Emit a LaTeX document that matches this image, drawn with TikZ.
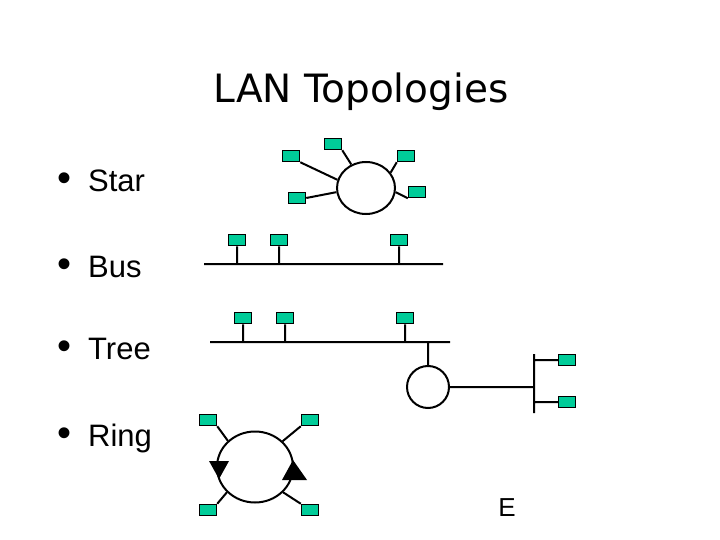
\documentclass[tikz,border=0pt]{standalone}
\usepackage{fontspec}
\setmainfont{Liberation Sans}
\newfontfamily\titlefont{DejaVu Sans}
\usepackage{tikz}
\usetikzlibrary{shapes.geometric,calc}
\usepackage{xcolor}
\definecolor{hostgreen}{RGB}{0,204,153}
\tikzset{
  host/.style={rectangle,draw,line width=1.5pt,fill=hostgreen,minimum width=17pt,minimum height=11pt,inner sep=0pt},
  wire/.style={draw,line width=2pt},
}

\begin{document}
\begin{tikzpicture}[
  x=1pt,y=-1pt,
  hub/.style={ellipse,draw,line width=2pt,inner sep=0pt},
  item/.style={anchor=base west,inner sep=0pt,font=\fontsize{31}{31}\selectfont}
]
\useasboundingbox (0,0) rectangle (720,540);

\node[anchor=base,inner sep=0pt,font=\titlefont\fontsize{39}{39}\selectfont] (title) at (361,103) {LAN Topologies};

\node[item] (lstar) at (57,192) {\makebox[31pt][l]{\fontsize{40}{40}\selectfont\textbullet}Star};
\node[item] (lbus) at (57,277) {\makebox[31pt][l]{\fontsize{40}{40}\selectfont\textbullet}Bus};
\node[item] (ltree) at (57,359) {\makebox[31pt][l]{\fontsize{40}{40}\selectfont\textbullet}Tree};
\node[item] (lring) at (57,446) {\makebox[31pt][l]{\fontsize{40}{40}\selectfont\textbullet}Ring};

\node[hub,minimum width=58pt,minimum height=52pt] (shub) at (366,188) {};
\node[host] (s1) at (291,156) {};
\node[host] (s2) at (333,144) {};
\node[host] (s3) at (406,156) {};
\node[host] (s4) at (417,192) {};
\node[host] (s5) at (297,198) {};

\coordinate (bl) at (204,264);
\coordinate (br) at (443,264);
\node[host] (b1) at (237,240) {};
\node[host] (b2) at (279,240) {};
\node[host] (b3) at (399,240) {};

\coordinate (tl) at (210,342);
\coordinate (tr) at (450,342);
\node[host] (t1) at (243,318) {};
\node[host] (t2) at (285,318) {};
\node[host] (t3) at (405,318) {};
\node[hub,minimum width=42pt,minimum height=42pt] (thub) at (428,387) {};
\coordinate (vt) at (534,354);
\coordinate (vb) at (534,413);
\node[host] (t4) at (567,360) {};
\node[host] (t5) at (567,402) {};

\node[hub,minimum width=76pt,minimum height=71pt] (ring) at (255,467) {};
\node[host] (r1) at (208,420) {};
\node[host] (r2) at (310,420) {};
\node[host] (r3) at (208,510) {};
\node[host] (r4) at (310,510) {};

\node[anchor=base,inner sep=0pt,font=\fontsize{26}{26}\selectfont] (mark) at (507,516) {E};

\path[wire]
(s1.south east) -- (shub.164)
(s2.south east) -- (shub.122)
(s3.south west) -- (shub.32)
(s4.south west) -- (shub.-8)
(s5.east) -- (shub.188)

(bl) -- (br)
(b1.south) -- (b1.south |- bl)
(b2.south) -- (b2.south |- bl)
(b3.south) -- (b3.south |- bl)

(tl) -- (tr)
(t1.south) -- (t1.south |- tl)
(t2.south) -- (t2.south |- tl)
(t3.south) -- (t3.south |- tl)
(thub.north) -- (thub.north |- tr)
(thub.east) -- (thub.east -| vt)
(vt) -- (vb)
(t4.west) -- (t4.west -| vt)
(t5.west) -- (t5.west -| vt)

(r1.south east) -- (ring.136)
(r2.south west) -- (ring.43)
(r3.north east) -- (ring.222)
(r4.north west) -- (ring.318);

\fill (209,461) -- (229,461) -- (219,479) -- cycle;
\fill (282,480) -- (307,480) -- (293,460) -- cycle;

\end{tikzpicture}
\end{document}
